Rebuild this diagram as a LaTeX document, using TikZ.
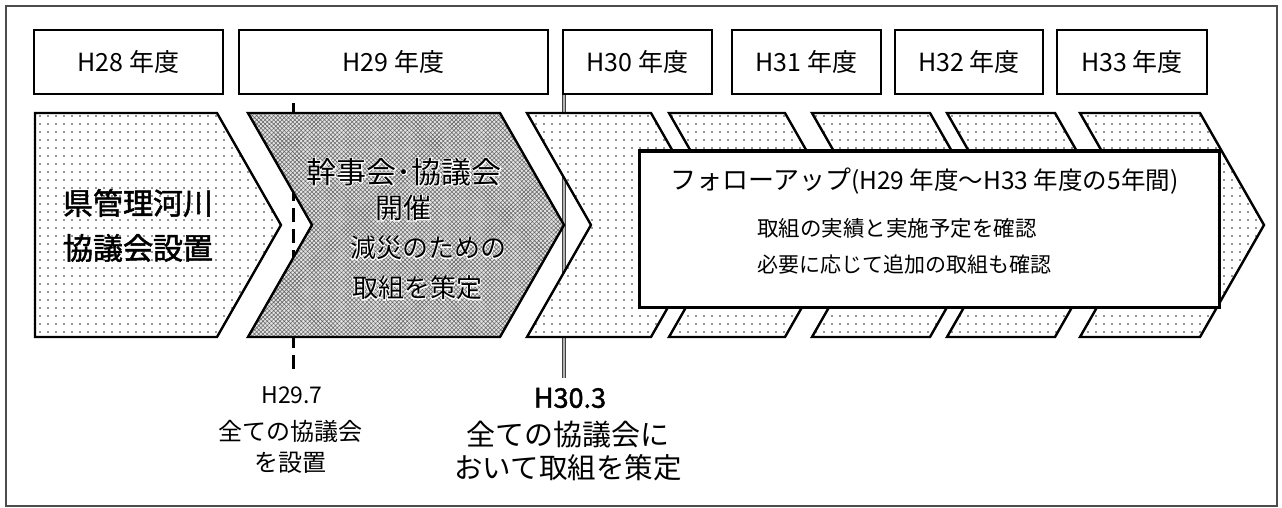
\documentclass[tikz,border=0pt]{standalone}
\usepackage{fontspec}
\setmainfont{Noto Sans CJK JP}
\newfontfamily\jpb{Noto Sans CJK JP}[FakeBold=1.6]
\newfontfamily\halof{Noto Sans CJK JP}[FakeBold=6]
\usetikzlibrary{patterns.meta}
\newcommand{\mychev}[3]{%
  \path[#1] (#2,113) -- (#3,113) -- ({#3+64},225) -- (#3,337) -- (#2,337) -- ({#2+64},225) -- cycle;}
\begin{document}
\begin{tikzpicture}[x=1pt,y=-1pt, line join=miter,
  yr/.style={draw, line width=2.8pt, minimum height=64pt, inner sep=0pt, font=\fontsize{25}{25}\selectfont},
  dotfill/.style={draw, line width=2.4pt, preaction={fill=white}, pattern={Dots[distance=8pt,radius=0.95pt]}, pattern color=black!85},
  hatchfill/.style={draw, line width=2.4pt, preaction={fill=gray!22}, pattern={Hatch[distance=3pt,angle=45,line width=0.55pt]}, pattern color=black!60},
  plain/.style={inner sep=0pt},
  halo/.style={inner sep=0pt, text=white}]
\useasboundingbox (0,0) rectangle (1282,508);
% frame
\draw[line width=2.5pt, black!70] (6,6) rectangle (1277,506);
% year boxes
\node[yr, minimum width=189pt] (y28) at (128.5,62) {H28 年度};
\node[yr, minimum width=309pt] (y29) at (393.5,62) {H29 年度};
\node[yr, minimum width=149pt] (y30) at (637.5,62) {H30 年度};
\node[yr, minimum width=149pt] (y31) at (806.5,62) {H31 年度};
\node[yr, minimum width=148pt] (y32) at (969,62) {H32 年度};
\node[yr, minimum width=150pt] (y33) at (1132,62) {H33 年度};
% marker lines
\coordinate (d1) at (293,103);
\coordinate (d2) at (293,375);
\coordinate (s1) at (564,95);
\coordinate (s2) at (564,378);
\draw[line width=3pt, dash pattern=on 14pt off 7pt] (d1) -- (d2);
\draw[line width=4.5pt, black!75] (s1) -- (s2);
\draw[line width=2pt, gray!60] (s1) -- (s2);
% chevrons
\path[dotfill] (35,113) -- (217,113) -- (281,225) -- (217,337) -- (35,337) -- cycle;
\mychev{hatchfill}{248}{500}
\mychev{dotfill}{527}{651}
\mychev{dotfill}{669}{785}
\mychev{dotfill}{812}{930}
\mychev{dotfill}{947}{1055}
\mychev{dotfill}{1080}{1200}
% follow-up box
\node[draw, line width=3pt, fill=white, minimum width=580pt, minimum height=156pt] (fu) at (929,229) {};
% chevron texts
\node[plain, font=\fontsize{30}{30}\selectfont\jpb] (c1a) at (138,203) {県管理河川};
\node[plain, font=\fontsize{30}{30}\selectfont\jpb] (c1b) at (138,248) {協議会設置};
\node[halo, font=\fontsize{30}{30}\selectfont\halof] (h2a) at (404,172) {幹事会･協議会};
\node[plain, font=\fontsize{30}{30}\selectfont] (c2a) at (404,172) {幹事会･協議会};
\node[halo, font=\fontsize{28}{28}\selectfont\halof] (h2b) at (403,208) {開催};
\node[plain, font=\fontsize{28}{28}\selectfont] (c2b) at (403,208) {開催};
\node[halo, font=\fontsize{26}{26}\selectfont\halof] (h2c) at (428,248) {減災のための};
\node[plain, font=\fontsize{26}{26}\selectfont] (c2c) at (428,248) {減災のための};
\node[halo, font=\fontsize{26}{26}\selectfont\halof] (h2d) at (417,288) {取組を策定};
\node[plain, font=\fontsize{26}{26}\selectfont] (c2d) at (417,288) {取組を策定};
% follow-up texts
\node[plain, anchor=west] (f1) at (670,181) {{\fontsize{26}{26}\selectfont フォローアップ}{\fontsize{24.5}{24.5}\selectfont (H29 年度～H33 年度の5年間)}};
\node[plain, anchor=west, font=\fontsize{21.5}{21.5}\selectfont] (f2) at (757,228) {取組の実績と実施予定を確認};
\node[plain, anchor=west, font=\fontsize{21}{21}\selectfont] (f3) at (757,265) {必要に応じて追加の取組も確認};
% bottom labels
\node[plain, font=\fontsize{23}{23}\selectfont] (l1) at (292,395) {H29.7};
\node[plain, font=\fontsize{24}{24}\selectfont] (l2) at (290,431) {全ての協議会};
\node[plain, font=\fontsize{24}{24}\selectfont] (l3) at (290,463) {を設置};
\node[plain, font=\fontsize{27}{27}\selectfont\jpb] (m1) at (570,398) {H30.3};
\node[plain, font=\fontsize{29}{29}\selectfont] (m2) at (568,435) {全ての協議会に};
\node[plain, font=\fontsize{28.5}{28.5}\selectfont] (m3) at (568,468) {おいて取組を策定};
\end{tikzpicture}
\end{document}
